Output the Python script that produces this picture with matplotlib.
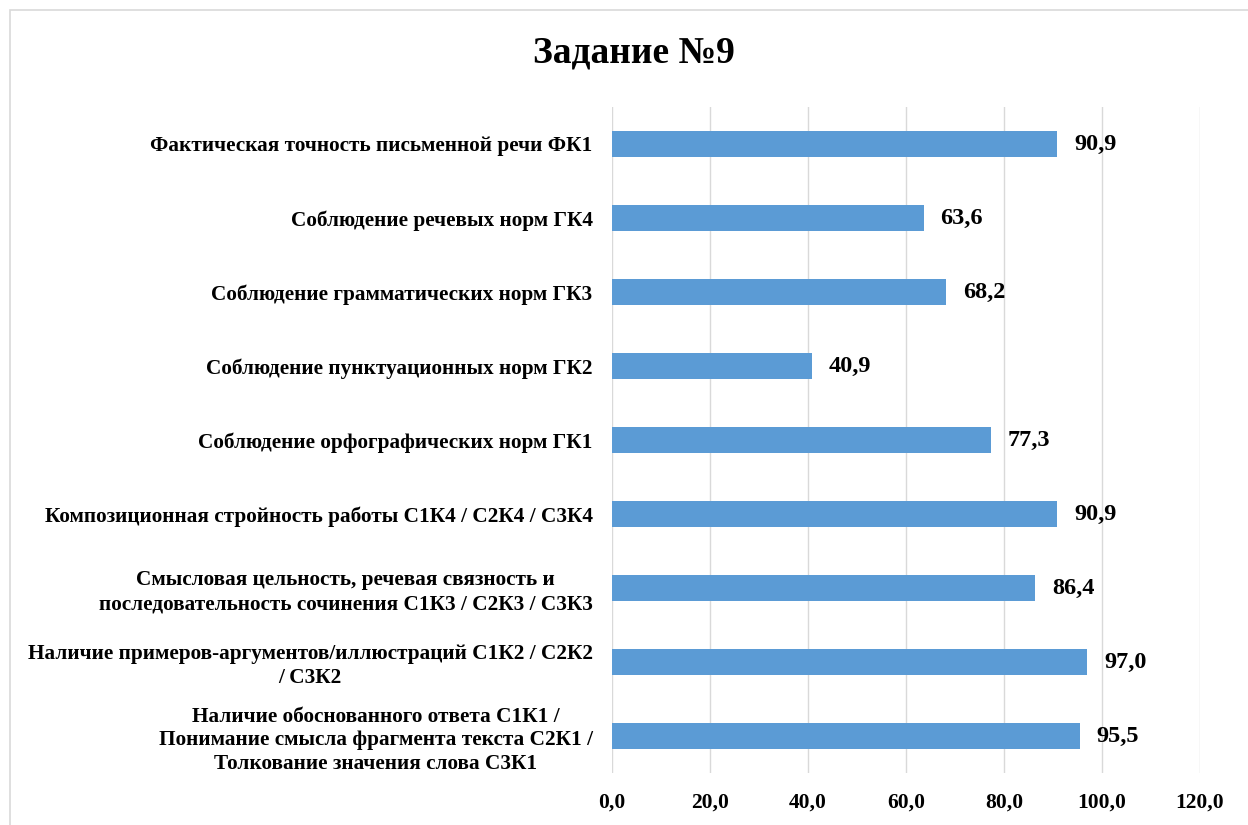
import matplotlib
matplotlib.use("Agg")
import matplotlib.pyplot as plt
from matplotlib.patches import Rectangle

plt.rcParams['font.family'] = ['Liberation Serif', 'DejaVu Serif']
plt.rcParams['font.weight'] = 'bold'

# categories from bottom to top
categories = [
    "Наличие обоснованного ответа С1К1 /\nПонимание смысла фрагмента текста С2К1 /\nТолкование значения слова С3К1",
    "Наличие примеров-аргументов/иллюстраций С1К2 / С2К2\n/ С3К2",
    "Смысловая цельность, речевая связность и\nпоследовательность сочинения С1К3 / С2К3 / С3К3",
    "Композиционная стройность работы С1К4 / С2К4 / С3К4",
    "Соблюдение орфографических норм ГК1",
    "Соблюдение пунктуационных норм ГК2",
    "Соблюдение грамматических норм ГК3",
    "Соблюдение речевых норм ГК4",
    "Фактическая точность письменной речи ФК1",
]
values = [95.5, 97.0, 86.4, 90.9, 77.3, 40.9, 68.2, 63.6, 90.9]
xticks = [0, 20, 40, 60, 80, 100, 120]

fig = plt.figure(figsize=(12.48, 8.25), dpi=100)
ax = fig.add_axes([612 / 1248, 1 - 773 / 825, 588 / 1248, 666 / 825])

ypos = range(len(categories))
ax.barh(ypos, values, height=0.35, color='#5B9BD5', zorder=3)

# value labels at the bar ends
for y, v in zip(ypos, values):
    ax.text(v + 3.4, y, f"{v:.1f}".replace('.', ','), va='center', ha='left',
            fontsize=17.5, fontweight='bold')

ax.set_xlim(0, 120)
ax.set_ylim(-0.5, len(categories) - 0.5)
ax.set_xticks(xticks)
ax.set_xticklabels([f"{t:.1f}".replace('.', ',') for t in xticks], fontsize=15.5, fontweight='bold')
ax.set_yticks(list(ypos))
ax.set_yticklabels(categories, fontsize=15.3, fontweight='bold', ha='right',
                   multialignment='center', linespacing=1.25)
ax.tick_params(axis='y', length=0, pad=14)
ax.tick_params(axis='x', length=0, pad=14)
ax.grid(axis='x', color='#D9D9D9', linewidth=1, zorder=0)
for s in ax.spines.values():
    s.set_visible(False)

fig.text(634 / 1248, 1 - 53 / 825, "Задание №9", ha='center', va='center',
         fontsize=27, fontweight='bold')

# light frame around the chart area
fig.patches.append(Rectangle((10 / 1248, -0.1), 1.2, (1 - 10 / 825) + 0.1,
                             transform=fig.transFigure, fill=False,
                             edgecolor='#D9D9D9', linewidth=1.2))

fig.savefig("out.png", dpi=100)
